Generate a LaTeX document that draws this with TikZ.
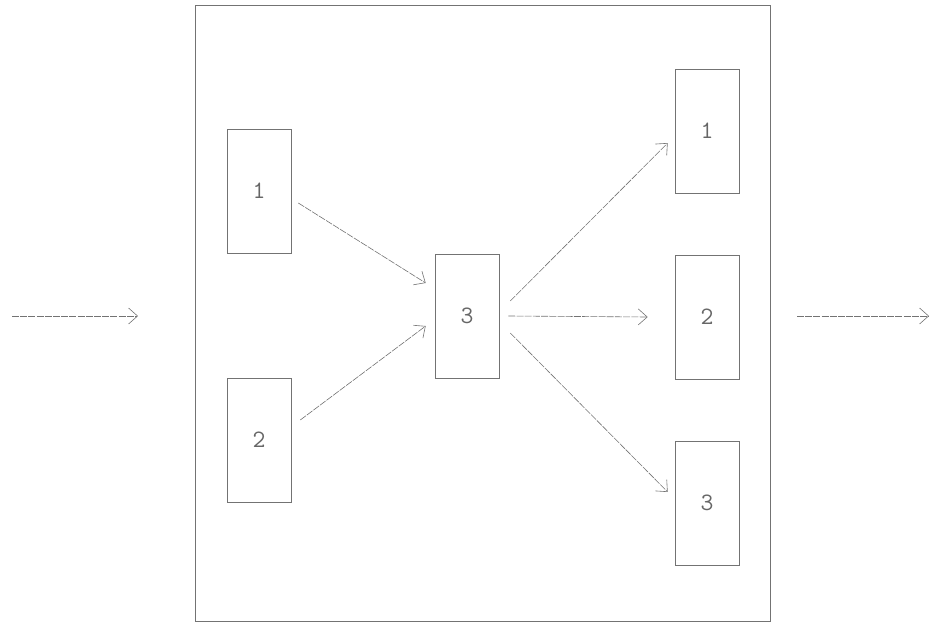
\documentclass[tikz,border=0pt]{standalone}
\usepackage{fontspec}
\usetikzlibrary{arrows.meta}
\begin{document}
\begin{tikzpicture}[x=1pt,y=-1pt,
  ln/.style={draw=black!55, line width=0.6pt},
  bx/.style={ln, rectangle, minimum width=64pt, minimum height=124pt, inner sep=0pt,
     text=black!60, font=\ttfamily\fontsize{25}{30}\selectfont},
  arr/.style={ln, dash pattern=on 7pt off 1.2pt, -{Straight Barb[length=9pt,width=16pt]}}
]
\useasboundingbox (0,0) rectangle (935,626);
\node[ln, rectangle, minimum width=575pt, minimum height=616pt, inner sep=0pt] (outer) at (482.5,313.5) {};
\node[bx] (a1) at (259,191) {1};
\node[bx] (a2) at (259,440) {2};
\node[bx] (m3) at (467,316) {3};
\node[bx] (b1) at (707,131) {1};
\node[bx] (b2) at (707,317) {2};
\node[bx] (b3) at (707,503) {3};
\coordinate (inS) at (12,316);
\coordinate (inE) at (138,316);
\coordinate (outS) at (797,316);
\coordinate (outE) at (929,316);
\draw[arr] (inS) -- (inE);
\draw[arr] (outS) -- (outE);
\draw[arr] ([shift={(7,12)}]a1.east) -- ([shift={(-9,-33)}]m3.west);
\draw[arr] ([shift={(9,-20)}]a2.east) -- ([shift={(-9,10)}]m3.west);
\draw[arr] ([shift={(11,-15)}]m3.east) -- ([shift={(-7,12)}]b1.west);
\draw[arr] ([shift={(9,0)}]m3.east) -- ([shift={(-27,0)}]b2.west);
\draw[arr] ([shift={(11,17)}]m3.east) -- ([shift={(-7,-11)}]b3.west);
\end{tikzpicture}
\end{document}
